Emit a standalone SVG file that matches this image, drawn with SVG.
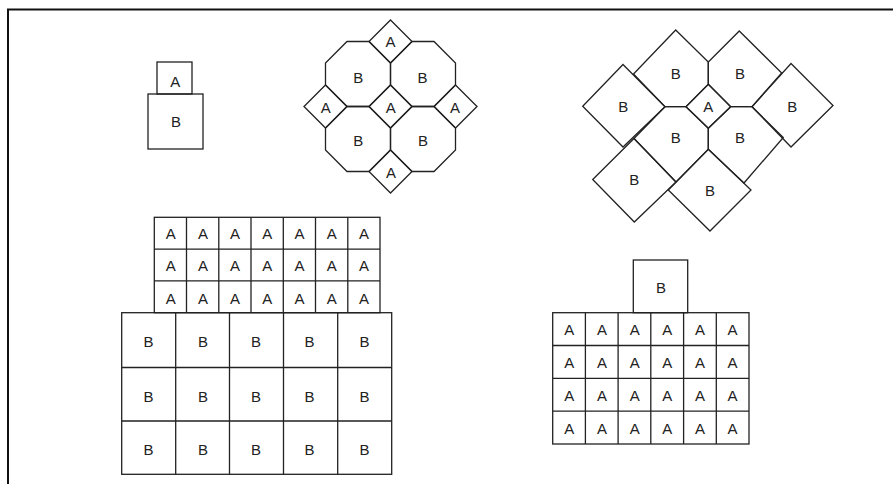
<svg xmlns="http://www.w3.org/2000/svg" width="893" height="484" viewBox="0 0 893 484">
<style>
.s{fill:none;stroke:#222;stroke-width:1.3;stroke-linejoin:miter}
.t{font-family:"Liberation Sans",Arial,sans-serif;font-size:15px;fill:#222;text-anchor:middle}
.f{fill:none;stroke:#111;stroke-width:2}
</style>
<rect width="893" height="484" fill="#fff"/>
<path class="f" d="M8,484 V9.5 H893"/>

<g id="pair-small">
<rect class="s" x="157" y="62" width="35" height="32"/>
<text class="t" x="175.3" y="87.3">A</text>
<rect class="s" x="148" y="94" width="55" height="55"/>
<text class="t" x="176" y="127">B</text>
</g>

<g id="octagon-cluster">
<g id="oct-A-top"><polygon class="s" points="390.5,20 412,41.5 390.5,63 369,41.5"/><text class="t" x="390.5" y="47.3">A</text></g>
<g id="oct-A-left"><polygon class="s" points="325.5,85 347,106.5 325.5,128 304,106.5"/><text class="t" x="325.7" y="112.6">A</text></g>
<g id="oct-A-center"><polygon class="s" points="390.5,85 412,106.5 390.5,128 369,106.5"/><text class="t" x="390.7" y="112.6">A</text></g>
<g id="oct-A-right"><polygon class="s" points="455.5,85 477,106.5 455.5,128 434,106.5"/><text class="t" x="455" y="112.6">A</text></g>
<g id="oct-A-bottom"><polygon class="s" points="390.5,150 412,171.5 390.5,193 369,171.5"/><text class="t" x="391" y="177.6">A</text></g>
<g id="oct-B-tl"><polygon class="s" points="347,41.5 369,41.5 390.5,63 390.5,85 369,106.5 347,106.5 325.5,85 325.5,63"/><text class="t" x="358.3" y="82.6">B</text></g>
<g id="oct-B-tr"><polygon class="s" points="412,41.5 434,41.5 455.5,63 455.5,85 434,106.5 412,106.5 390.5,85 390.5,63"/><text class="t" x="422.5" y="82.6">B</text></g>
<g id="oct-B-bl"><polygon class="s" points="347,106.5 369,106.5 390.5,128 390.5,150 369,171.5 347,171.5 325.5,150 325.5,128"/><text class="t" x="358.3" y="146">B</text></g>
<g id="oct-B-br"><polygon class="s" points="412,106.5 434,106.5 455.5,128 455.5,150 434,171.5 412,171.5 390.5,150 390.5,128"/><text class="t" x="423" y="146">B</text></g>
</g>

<g id="diamond-cluster">
<g id="dia-A"><polygon class="s" points="708.3,84.3 730.7,106.7 708.3,128.3 686,106.7"/><text class="t" x="708.3" y="112">A</text></g>
<g id="dia-B-tl"><polygon class="s" points="675.7,30 708.3,62 708.3,84.3 686,106.7 665,106.7 633.5,74"/><text class="t" x="675.7" y="78.6">B</text></g>
<g id="dia-B-tr"><polygon class="s" points="739.3,31 781.7,73 752,106.7 730.7,106.7 708.3,84.3 708.3,62"/><text class="t" x="740" y="78.6">B</text></g>
<g id="dia-B-left"><polygon class="s" points="623,64.5 665,106.7 623,147 582.7,106.3"/><text class="t" x="623.3" y="112">B</text></g>
<g id="dia-B-right"><polygon class="s" points="791,63.5 833,105.5 791,147 752,106.7"/><text class="t" x="792.3" y="112">B</text></g>
<g id="dia-B-bli"><polygon class="s" points="686,106.7 708.3,128.3 708.3,149.3 676,182 634,138.5 665,106.7"/><text class="t" x="675.7" y="142.6">B</text></g>
<g id="dia-B-bri"><polygon class="s" points="730.7,106.7 752,106.7 783.3,137.5 744,183 708.3,149.3 708.3,128.3"/><text class="t" x="740" y="142.6">B</text></g>
<g id="dia-B-bl"><polygon class="s" points="634,138.5 676,182 634.3,222 592.7,179.5"/><text class="t" x="634.3" y="185.3">B</text></g>
<g id="dia-B-bottom"><polygon class="s" points="708.3,149.3 751,190 710,231 668.3,190"/><text class="t" x="710" y="196.3">B</text></g>
</g>

<g id="grid-left">
<g id="grid-left-A">
<rect class="s" x="154.3" y="217.3" width="225.7" height="95.4"/>
<path class="s" d="M186.5,217.3V312.7M218.8,217.3V312.7M251,217.3V312.7M283.3,217.3V312.7M315.5,217.3V312.7M347.8,217.3V312.7M154.3,249.1H380M154.3,280.9H380"/>
<text class="t" x="170.7" y="238.6">A</text><text class="t" x="203" y="238.6">A</text><text class="t" x="235.1" y="238.6">A</text><text class="t" x="267.2" y="238.6">A</text><text class="t" x="299.4" y="238.6">A</text><text class="t" x="331.7" y="238.6">A</text><text class="t" x="364" y="238.6">A</text>
<text class="t" x="170.7" y="271.3">A</text><text class="t" x="203" y="271.3">A</text><text class="t" x="235.1" y="271.3">A</text><text class="t" x="267.2" y="271.3">A</text><text class="t" x="299.4" y="271.3">A</text><text class="t" x="331.7" y="271.3">A</text><text class="t" x="364" y="271.3">A</text>
<text class="t" x="170.7" y="303.6">A</text><text class="t" x="203" y="303.6">A</text><text class="t" x="235.1" y="303.6">A</text><text class="t" x="267.2" y="303.6">A</text><text class="t" x="299.4" y="303.6">A</text><text class="t" x="331.7" y="303.6">A</text><text class="t" x="364" y="303.6">A</text>
</g>
<g id="grid-left-B">
<rect class="s" x="121.7" y="312.7" width="270" height="161.6"/>
<path class="s" d="M175.7,312.7V474.3M229.5,312.7V474.3M283.5,312.7V474.3M337.7,312.7V474.3M121.7,367.5H391.7M121.7,421H391.7"/>
<text class="t" x="148.5" y="346.8">B</text><text class="t" x="203" y="346.8">B</text><text class="t" x="256" y="346.8">B</text><text class="t" x="309.5" y="346.8">B</text><text class="t" x="364.5" y="346.8">B</text>
<text class="t" x="148.5" y="401.8">B</text><text class="t" x="203" y="401.8">B</text><text class="t" x="256" y="401.8">B</text><text class="t" x="309.5" y="401.8">B</text><text class="t" x="364.5" y="401.8">B</text>
<text class="t" x="148.5" y="455.3">B</text><text class="t" x="203" y="455.3">B</text><text class="t" x="256" y="455.3">B</text><text class="t" x="309.5" y="455.3">B</text><text class="t" x="364.5" y="455.3">B</text>
</g>
</g>

<g id="grid-right">
<g id="grid-right-B">
<rect class="s" x="633.3" y="260" width="54.4" height="52.7"/>
<text class="t" x="661" y="293">B</text>
</g>
<g id="grid-right-A">
<rect class="s" x="552.7" y="312.7" width="196.3" height="131.3"/>
<path class="s" d="M585.4,312.7V444M618.1,312.7V444M650.8,312.7V444M683.6,312.7V444M716.3,312.7V444M552.7,345.5H749M552.7,378.3H749M552.7,411.2H749"/>
<text class="t" x="569.3" y="335.3">A</text><text class="t" x="602" y="335.3">A</text><text class="t" x="634.8" y="335.3">A</text><text class="t" x="667.2" y="335.3">A</text><text class="t" x="700" y="335.3">A</text><text class="t" x="732.6" y="335.3">A</text>
<text class="t" x="569.3" y="368.2">A</text><text class="t" x="602" y="368.2">A</text><text class="t" x="634.8" y="368.2">A</text><text class="t" x="667.2" y="368.2">A</text><text class="t" x="700" y="368.2">A</text><text class="t" x="732.6" y="368.2">A</text>
<text class="t" x="569.3" y="401">A</text><text class="t" x="602" y="401">A</text><text class="t" x="634.8" y="401">A</text><text class="t" x="667.2" y="401">A</text><text class="t" x="700" y="401">A</text><text class="t" x="732.6" y="401">A</text>
<text class="t" x="569.3" y="433.8">A</text><text class="t" x="602" y="433.8">A</text><text class="t" x="634.8" y="433.8">A</text><text class="t" x="667.2" y="433.8">A</text><text class="t" x="700" y="433.8">A</text><text class="t" x="732.6" y="433.8">A</text>
</g>
</g>

<g id="connectors"></g>
</svg>
